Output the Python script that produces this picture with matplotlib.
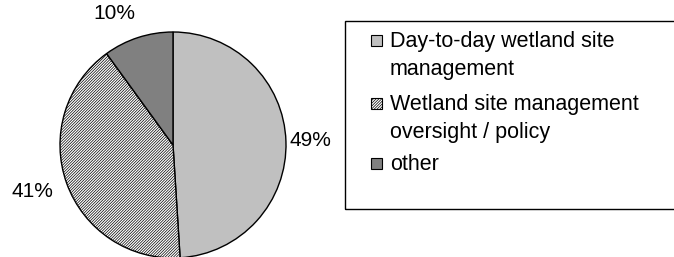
import matplotlib.pyplot as plt
from matplotlib.patches import Rectangle

plt.rcParams["font.family"] = ["Liberation Sans", "DejaVu Sans"]
plt.rcParams["hatch.linewidth"] = 0.5

labels = ["Day-to-day wetland site\nmanagement",
          "Wetland site management\noversight / policy",
          "other"]
shares = [49, 41, 10]
colors = ["#c0c0c0", "white", "#808080"]
hatches = [None, "////////////", None]

W, H = 674, 257
fig = plt.figure(figsize=(W / 100, H / 100), dpi=100)

# pie: centre ~ (173, 145) px, radius ~113 px
r = 113
ax = fig.add_axes([(173 - r) / W, (H - 145 - r) / H, 2 * r / W, 2 * r / H])
wedges, texts, autotexts = ax.pie(
    shares, colors=colors, startangle=90, counterclock=False,
    autopct="%d%%", pctdistance=1.22, radius=1,
    wedgeprops=dict(edgecolor="black", linewidth=1.0),
    textprops=dict(fontsize=15),
)
for w, h in zip(wedges, hatches):
    if h:
        w.set_hatch(h)
ax.set_xlim(-1.0, 1.0)
ax.set_ylim(-1.0, 1.0)
ax.set_aspect("equal")

# nudge labels to where the original put them
x, y = autotexts[1].get_position()
autotexts[1].set_position((x - 0.1, y))
x, y = autotexts[2].get_position()
autotexts[2].set_position((x - 0.14, y))

# legend box
lx0, ly0, lx1, ly1 = 345, 21, 680, 209
fig.patches.append(Rectangle((lx0 / W, 1 - ly1 / H), (lx1 - lx0) / W, (ly1 - ly0) / H,
                             transform=fig.transFigure, fill=False,
                             edgecolor="black", linewidth=1.0))
baselines = [47, 110, 170]
line_gap = 28
for lab, c, h, yb in zip(labels, colors, hatches, baselines):
    fig.patches.append(Rectangle((371 / W, 1 - (yb - 1) / H), 11 / W, 11 / H,
                                 transform=fig.transFigure, facecolor=c,
                                 edgecolor="black", linewidth=0.8, hatch=h))
    for i, line in enumerate(lab.split("\n")):
        fig.text(390 / W, 1 - (yb + i * line_gap) / H, line, fontsize=15.5,
                 va="baseline", ha="left")

fig.savefig("out.png", dpi=100)
